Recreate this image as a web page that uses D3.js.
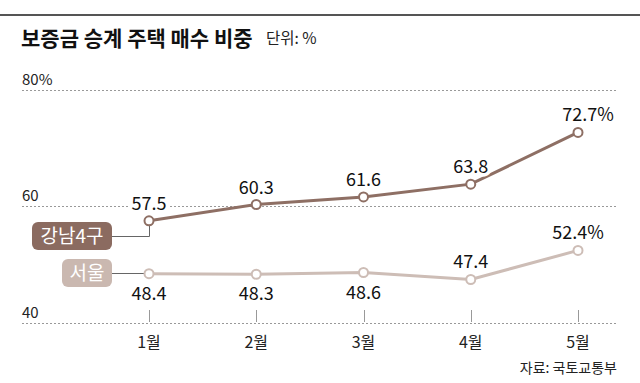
<!DOCTYPE html>
<html><head><meta charset="utf-8">
<script src="https://cdn.jsdelivr.net/npm/d3@7"></script>
<style>body{margin:0;background:#fff}svg{display:block}text{font-family:"Noto Sans CJK KR","Noto Sans",sans-serif}</style>
</head><body>
<script>
const months = ["1월","2월","3월","4월","5월"];
const gangnam = [57.5, 60.3, 61.6, 63.8, 72.7];
const seoul = [48.4, 48.3, 48.6, 47.4, 52.4];
const gangnamLabels = ["57.5","60.3","61.6","63.8","72.7%"];
const seoulLabels = ["48.4","48.3","48.6","47.4","52.4%"];
const seoulLabelPos = ["below","below","below","above","above"];
const yTicks = [40, 60, 80];
const yTickLabels = ["40","60","80%"];
const seriesNames = ["강남4구","서울"];

const W = 640, H = 383;
const svg = d3.select("body").append("svg").attr("width", W).attr("height", H);
const x = d3.scalePoint().domain(months).range([149, 578]);
const y = d3.scaleLinear().domain([40, 80]).range([322.5, 90]);

const cG = "#8e6f64", cGbox = "#8b6b60", cS = "#cdbdb6", cSbox = "#cab8b0";

// top rule
svg.append("rect").attr("x",0).attr("y",14).attr("width",W).attr("height",2).attr("fill","#555");
// title
svg.append("text").attr("x",21).attr("y",46).attr("font-size",21).attr("font-weight",700).attr("fill","#111").text("보증금 승계 주택 매수 비중");
svg.append("text").attr("x",266).attr("y",44).attr("font-size",15.5).attr("fill","#222").text("단위: %");

// gridlines
const g = svg.append("g");
yTicks.forEach((t,i)=>{
  g.append("line").attr("x1",22).attr("x2",616).attr("y1",Math.round(y(t))+0.5).attr("y2",Math.round(y(t))+0.5)
    .attr("stroke","#999").attr("stroke-width",1).attr("stroke-dasharray","2,2");
  g.append("text").attr("x",22).attr("y",y(t)-5).attr("font-size",15).attr("fill","#222").text(yTickLabels[i]);
});
// x ticks
months.forEach(m=>{
  g.append("line").attr("x1",Math.round(x(m))+0.5).attr("x2",Math.round(x(m))+0.5).attr("y1",310).attr("y2",322)
    .attr("stroke","#999").attr("stroke-width",1);
  g.append("text").attr("x",x(m)).attr("y",348).attr("text-anchor","middle").attr("font-size",16).attr("fill","#222").text(m);
});
// source
svg.append("text").attr("x",617).attr("y",373).attr("text-anchor","end").attr("font-size",14).attr("fill","#222").text("자료: 국토교통부");

const line = d3.line().x((d,i)=>x(months[i])).y(d=>y(d));

// legend connectors
svg.append("path").attr("d",`M112,236.5H149.5V${y(gangnam[0])+4}`).attr("fill","none").attr("stroke","#666").attr("stroke-width",1);
svg.append("path").attr("d",`M112,273.5H${x(months[0])-4}`).attr("fill","none").attr("stroke","#666").attr("stroke-width",1);

// lines
svg.append("path").datum(seoul).attr("d",line).attr("fill","none").attr("stroke",cS).attr("stroke-width",3);
svg.append("path").datum(gangnam).attr("d",line).attr("fill","none").attr("stroke",cG).attr("stroke-width",3);

// points
[[seoul,cS],[gangnam,cG]].forEach(([data,c])=>{
  svg.append("g").selectAll("circle").data(data).join("circle")
    .attr("cx",(d,i)=>x(months[i])).attr("cy",d=>y(d)).attr("r",4.5)
    .attr("fill","#fff").attr("stroke",c).attr("stroke-width",2);
});

// labels
function label(xx, yy, txt){
  svg.append("text").attr("x",xx).attr("y",yy).attr("text-anchor","middle").attr("font-size",18)
    .attr("fill","#111").attr("stroke","#fff").attr("stroke-width",7).attr("paint-order","stroke").text(txt);
}
gangnam.forEach((d,i)=>{
  const dx = i===4 ? 10 : 0;
  label(x(months[i])+dx, y(d)-11, gangnamLabels[i]);
});
seoul.forEach((d,i)=>{
  const yy = seoulLabelPos[i]==="below" ? y(d)+26 : y(d)-11;
  label(x(months[i]), yy, seoulLabels[i]);
});

// legend boxes
svg.append("rect").attr("x",32).attr("y",222).attr("width",80).attr("height",28).attr("rx",6).attr("fill",cGbox);
svg.append("text").attr("x",72).attr("y",243).attr("text-anchor","middle").attr("font-size",19).attr("fill","#fff").text(seriesNames[0]);
svg.append("rect").attr("x",62).attr("y",259).attr("width",50).attr("height",28).attr("rx",6).attr("fill",cSbox);
svg.append("text").attr("x",87).attr("y",280).attr("text-anchor","middle").attr("font-size",19).attr("fill","#fff").text(seriesNames[1]);
</script>
</body></html>
